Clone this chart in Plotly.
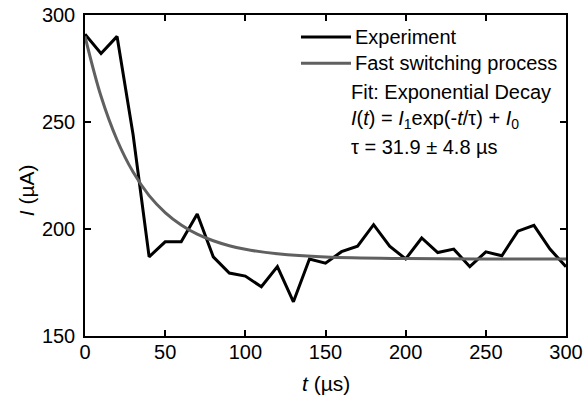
import plotly.graph_objects as go

# Experiment data
t_exp = [0, 10, 20, 30, 40, 50, 60, 70, 80, 90, 100, 110, 120, 130, 140, 150,
         160, 170, 180, 190, 200, 210, 220, 230, 240, 250, 260, 270, 280, 290, 300]
i_exp = [291, 282, 290, 244, 187, 194, 194, 207, 187, 179.4, 178, 173, 182.4, 166, 186, 184,
         189.4, 192, 202, 192, 186, 195.8, 189, 190.6, 182.4, 189.3, 187.5, 199, 201.7, 190.6, 182.4]

# Fast switching process fit curve
t_fit = [0, 10, 20, 30, 40, 50, 60, 70, 80, 90, 100, 120, 150, 200, 250, 300]
i_fit = [290, 262, 241.6, 226.6, 215.6, 207.7, 201.9, 197.6, 194.5, 192.2, 190.5, 188.4, 186.9, 186.2, 186, 186]

x_ticks = [0, 50, 100, 150, 200, 250, 300]
y_ticks = [150, 200, 250, 300]

legend_names = ["Experiment", "Fast switching process"]
legend_colors = ["black", "#606060"]
fit_texts = [
    "Fit: Exponential Decay",
    "<i>I</i>(<i>t</i>) = <i>I</i><sub>1</sub>exp(-<i>t</i>/τ) + <i>I</i><sub>0</sub>",
    "τ = 31.9 ± 4.8 µs",
]
x_title = "<i>t</i> (µs)"
y_title = "<i>I</i> (µA)"

FONT = "Liberation Sans, Arial, sans-serif"
TXT = 20

fig = go.Figure()
fig.add_trace(go.Scatter(x=t_exp, y=i_exp, mode="lines", name=legend_names[0],
                         line=dict(color=legend_colors[0], width=3)))
fig.add_trace(go.Scatter(x=t_fit, y=i_fit, mode="lines", name=legend_names[1],
                         line=dict(color=legend_colors[1], width=3, shape="spline", smoothing=1.0)))

axis_common = dict(showline=True, linecolor="black", linewidth=1.5, mirror="ticks",
                   ticks="inside", ticklen=6, tickwidth=1.5, tickcolor="black",
                   showgrid=False, zeroline=False, automargin=False,
                   tickfont=dict(family=FONT, size=20, color="black"))

fig.update_xaxes(range=[0, 300], tickvals=x_ticks, ticklabelstandoff=-3, **axis_common)
fig.update_yaxes(range=[150, 300], tickvals=y_ticks, ticklabelstandoff=4, **axis_common)

# manual legend (line samples + labels) and fit description
legend_y = [0.9315, 0.850]
shapes = []
annotations = []
for name, col, yy in zip(legend_names, legend_colors, legend_y):
    shapes.append(dict(type="line", xref="paper", yref="paper", x0=0.449, x1=0.553,
                       y0=yy, y1=yy, line=dict(color=col, width=3)))
    annotations.append(dict(xref="paper", yref="paper", x=0.558, y=yy, xanchor="left",
                            yanchor="middle", text=name, showarrow=False,
                            font=dict(family=FONT, size=TXT, color="black")))
for txt, yy in zip(fit_texts, [0.760, 0.673, 0.589]):
    annotations.append(dict(xref="paper", yref="paper", x=0.549, y=yy, xanchor="left",
                            yanchor="middle", text=txt, showarrow=False,
                            font=dict(family=FONT, size=TXT, color="black")))

# axis titles
annotations.append(dict(xref="paper", yref="paper", x=0.5, y=-0.1495, xanchor="center",
                        yanchor="middle", text=x_title, showarrow=False,
                        font=dict(family=FONT, size=21, color="black")))
annotations.append(dict(xref="paper", yref="paper", x=-0.12, y=0.455, xanchor="center",
                        yanchor="middle", text=y_title, showarrow=False, textangle=-90,
                        font=dict(family=FONT, size=21, color="black")))

fig.update_layout(
    width=586, height=398,
    margin=dict(l=85, r=20, t=15, b=62),
    plot_bgcolor="white", paper_bgcolor="white",
    showlegend=False,
    shapes=shapes,
    annotations=annotations,
)

fig.write_html("out.html", config={"displayModeBar": False},
               post_script="document.body.style.margin='0';")
